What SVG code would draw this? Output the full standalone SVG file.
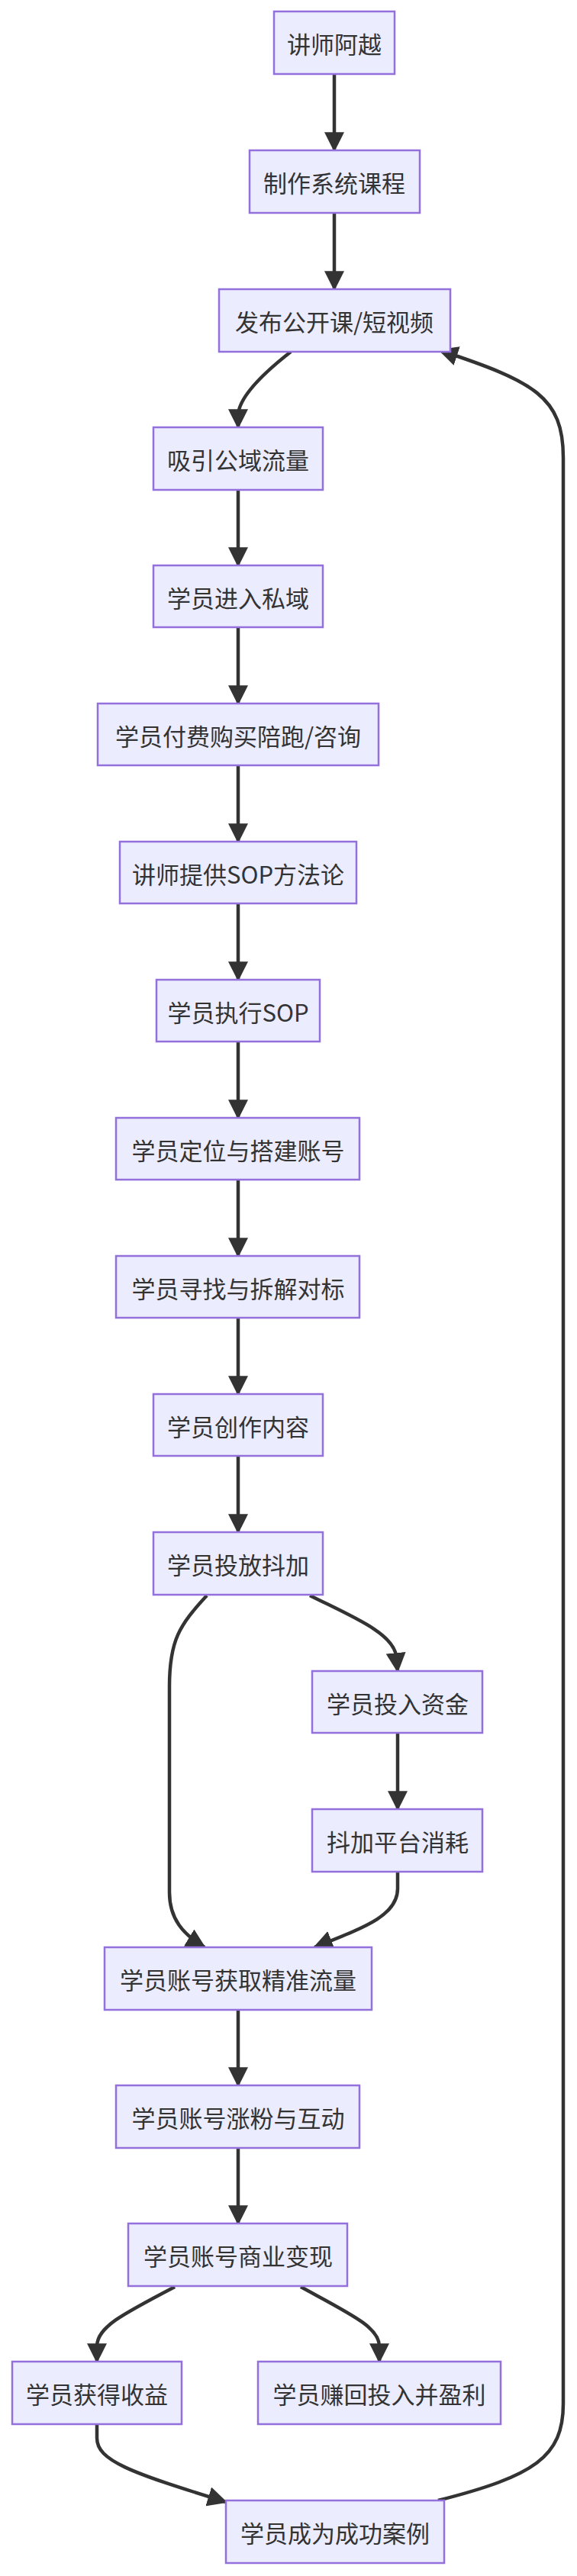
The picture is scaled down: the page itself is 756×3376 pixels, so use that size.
<svg xmlns="http://www.w3.org/2000/svg" width="756" height="3376" viewBox="0 0 756 3376">
<style>
.n rect{fill:#ECECFF;stroke:#9370DB;stroke-width:2.5}
.n text{font-family:"Noto Sans CJK SC","Noto Sans",sans-serif;font-size:31px;fill:#333;text-anchor:middle;dominant-baseline:central}
.e path{fill:none;stroke:#333;stroke-width:4.5}
</style>
<defs>
<marker id="ah" markerUnits="userSpaceOnUse" markerWidth="26" markerHeight="26" viewBox="0 0 24 24" refX="22" refY="12" orient="auto">
<path d="M0,0 L24,12 L0,24 z" fill="#333"/>
</marker>
</defs>
<rect width="756" height="3376" fill="#fff"/>
<g class="e" marker-end="url(#ah)">
<path d="M438,97 V197" marker-end="url(#ah)"/>
<path d="M438,279 V379" marker-end="url(#ah)"/>
<path d="M381,461 Q312,515 312,545 V560" marker-end="url(#ah)"/>
<path d="M312,642 V741" marker-end="url(#ah)"/>
<path d="M312,822 V922" marker-end="url(#ah)"/>
<path d="M312,1003 V1103" marker-end="url(#ah)"/>
<path d="M312,1184 V1284" marker-end="url(#ah)"/>
<path d="M312,1365 V1465" marker-end="url(#ah)"/>
<path d="M312,1546 V1646" marker-end="url(#ah)"/>
<path d="M312,1727 V1827" marker-end="url(#ah)"/>
<path d="M312,1908 V2008" marker-end="url(#ah)"/>
<path d="M406,2091 C460,2118 515,2140 519,2170 L521,2190" marker-end="url(#ah)"/>
<path d="M271,2091 C235,2130 222,2150 222,2210 V2480 C222,2515 240,2535 268,2552" marker-end="url(#ah)"/>
<path d="M521,2271 V2371" marker-end="url(#ah)"/>
<path d="M521,2453 V2475 C521,2510 480,2525 412,2552" marker-end="url(#ah)"/>
<path d="M312,2634 V2733" marker-end="url(#ah)"/>
<path d="M312,2815 V2914" marker-end="url(#ah)"/>
<path d="M229,2997 C160,3033 127,3050 127,3075 V3095" marker-end="url(#ah)"/>
<path d="M394,2997 C460,3033 497,3050 497,3075 V3095" marker-end="url(#ah)"/>
<path d="M127,3177 V3195 C127,3225 170,3240 296,3279" marker-end="url(#ah)"/>
<path d="M574,3277 C700,3245 738,3220 738,3150 V600 C738,520 700,500 576,459" marker-end="url(#ah)"/>
</g>
<g id="n1" class="n"><rect x="359" y="15" width="158" height="82"/><text x="438" y="56">讲师阿越</text></g>
<g id="n2" class="n"><rect x="327" y="197" width="223" height="82"/><text x="438" y="238">制作系统课程</text></g>
<g id="n3" class="n"><rect x="287" y="379" width="303" height="82"/><text x="438" y="420">发布公开课/短视频</text></g>
<g id="n4" class="n"><rect x="201" y="560" width="222" height="82"/><text x="312" y="601">吸引公域流量</text></g>
<g id="n5" class="n"><rect x="201" y="741" width="222" height="81"/><text x="312" y="782">学员进入私域</text></g>
<g id="n6" class="n"><rect x="128" y="922" width="368" height="81"/><text x="312" y="963">学员付费购买陪跑/咨询</text></g>
<g id="n7" class="n"><rect x="157" y="1103" width="310" height="81"/><text x="312" y="1144">讲师提供SOP方法论</text></g>
<g id="n8" class="n"><rect x="205" y="1284" width="214" height="81"/><text x="312" y="1325">学员执行SOP</text></g>
<g id="n9" class="n"><rect x="152" y="1465" width="319" height="81"/><text x="312" y="1506">学员定位与搭建账号</text></g>
<g id="n10" class="n"><rect x="152" y="1646" width="319" height="81"/><text x="312" y="1687">学员寻找与拆解对标</text></g>
<g id="n11" class="n"><rect x="201" y="1827" width="222" height="81"/><text x="312" y="1868">学员创作内容</text></g>
<g id="n12" class="n"><rect x="201" y="2008" width="222" height="82"/><text x="312" y="2049">学员投放抖加</text></g>
<g id="n13" class="n"><rect x="409" y="2190" width="223" height="81"/><text x="521" y="2231">学员投入资金</text></g>
<g id="n14" class="n"><rect x="409" y="2371" width="223" height="82"/><text x="521" y="2412">抖加平台消耗</text></g>
<g id="n15" class="n"><rect x="137" y="2552" width="350" height="82"/><text x="312" y="2593">学员账号获取精准流量</text></g>
<g id="n16" class="n"><rect x="152" y="2733" width="319" height="82"/><text x="312" y="2774">学员账号涨粉与互动</text></g>
<g id="n17" class="n"><rect x="168" y="2914" width="287" height="82"/><text x="312" y="2955">学员账号商业变现</text></g>
<g id="n18" class="n"><rect x="16" y="3095" width="222" height="82"/><text x="127" y="3136">学员获得收益</text></g>
<g id="n19" class="n"><rect x="338" y="3095" width="318" height="82"/><text x="497" y="3136">学员赚回投入并盈利</text></g>
<g id="n20" class="n"><rect x="296" y="3277" width="286" height="82"/><text x="439" y="3318">学员成为成功案例</text></g>
</svg>
